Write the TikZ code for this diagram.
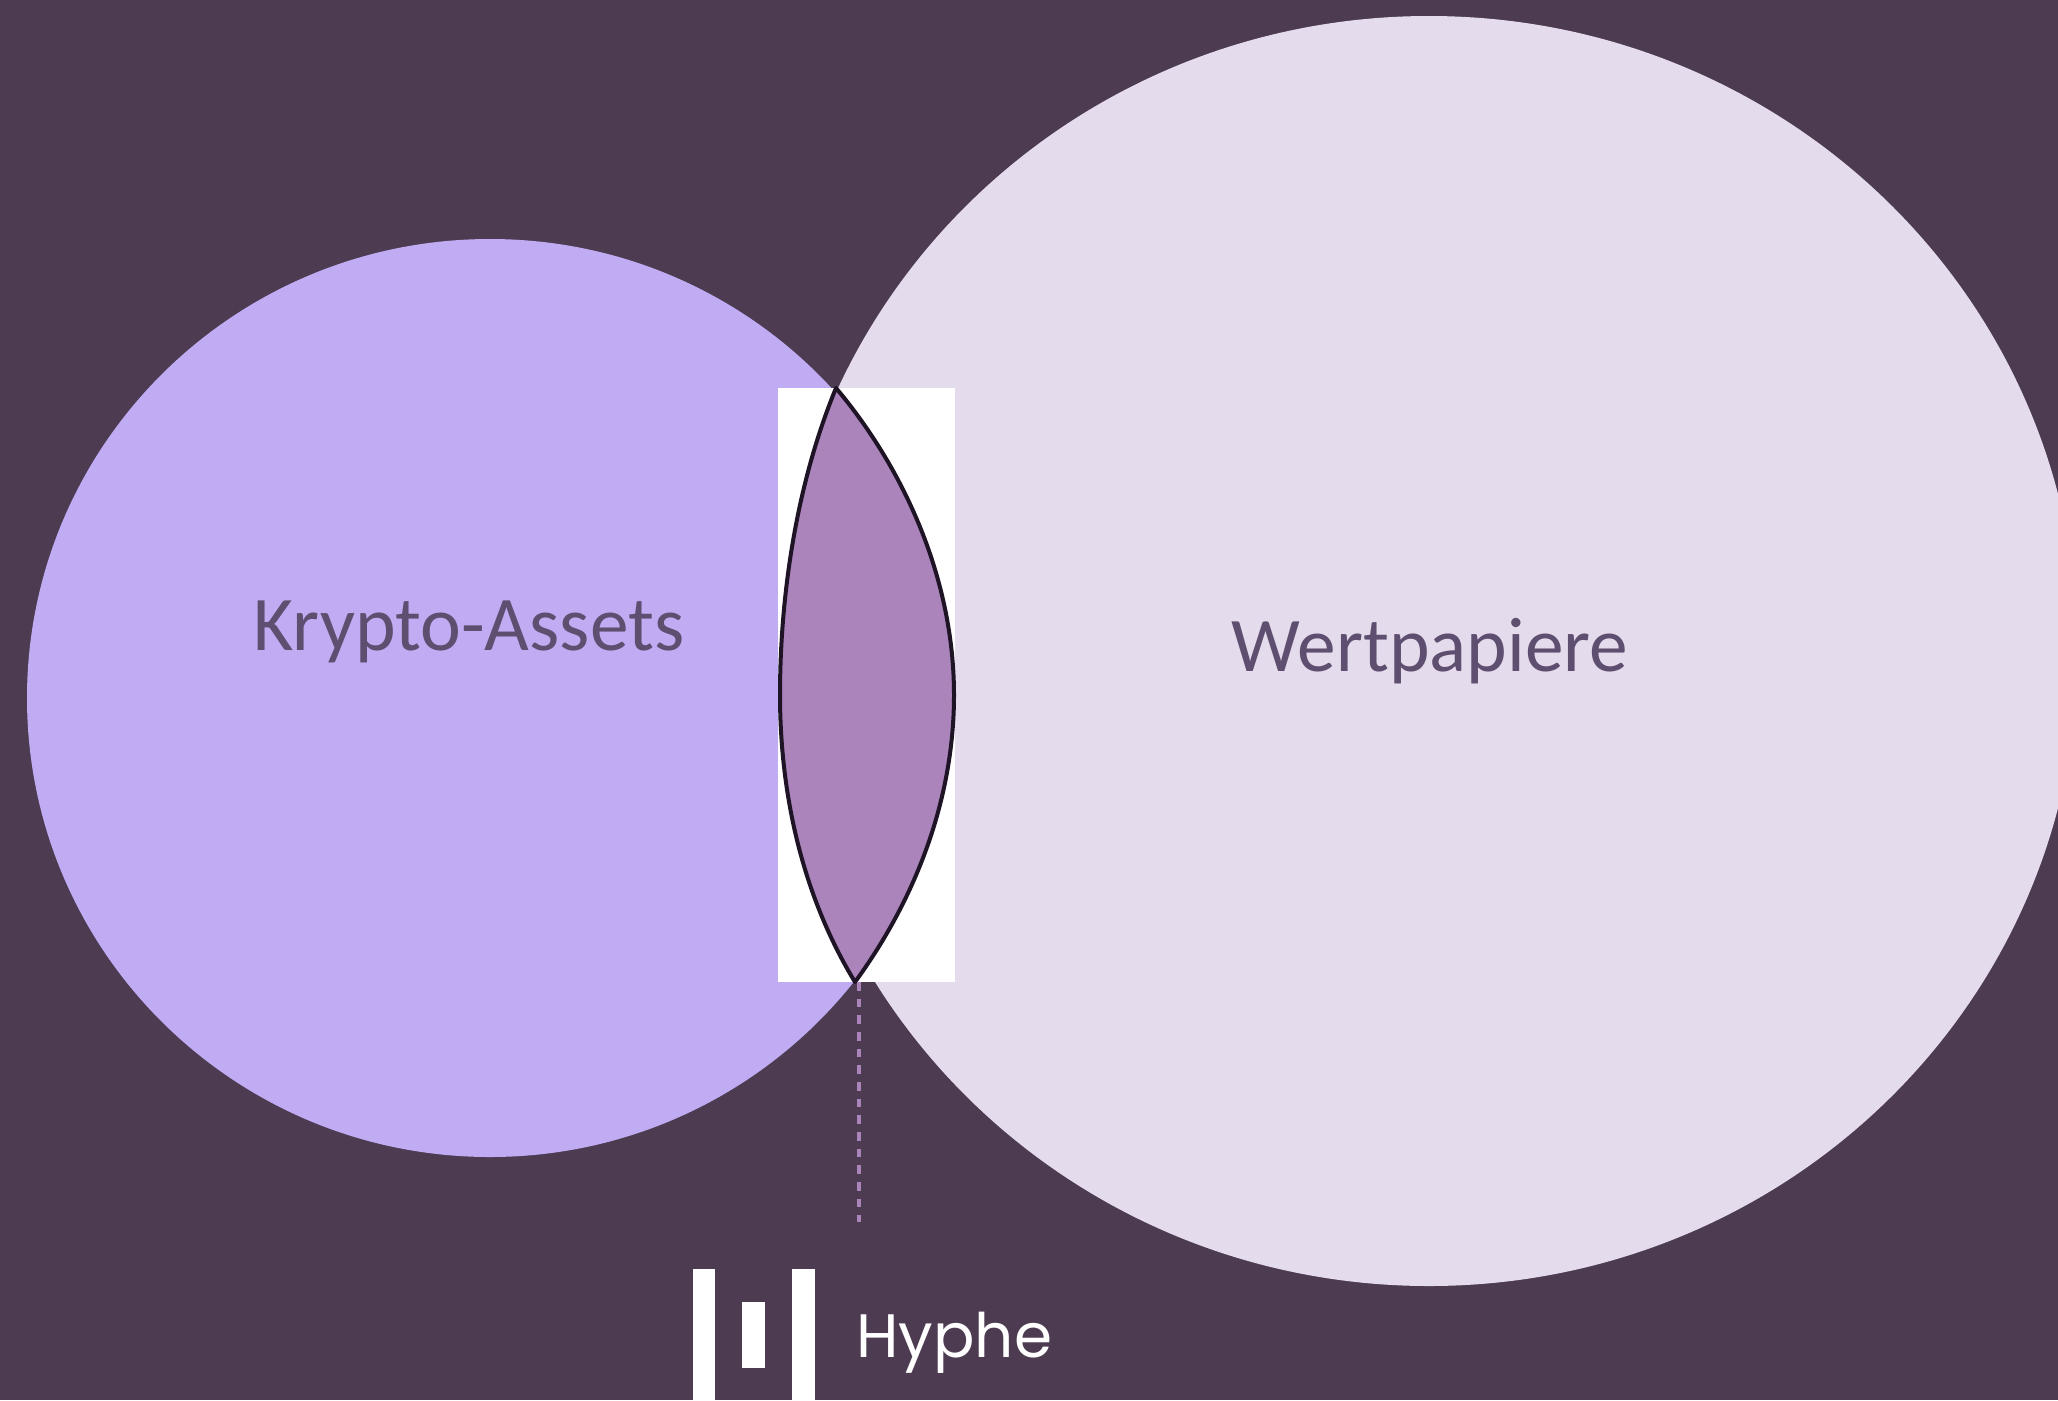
\documentclass[tikz,border=0pt]{standalone}
\usepackage{fontspec}
\setmainfont{Carlito}
\newfontfamily\logofont{Poppins}
\definecolor{bgplum}{HTML}{4D3B51}
\definecolor{krypto}{HTML}{C0ACF3}
\definecolor{wert}{HTML}{E4DCEC}
\definecolor{lens}{HTML}{AA84BA}
\definecolor{labeltext}{HTML}{5E4E70}
\definecolor{pixeldark}{HTML}{1E1426}
\tikzset{
	setlabel/.style={text=labeltext,font=\fontsize{58}{60}\selectfont,inner sep=0pt},
	logobar/.style={fill=white,draw=none}}
\tikzset{every picture/.style={line width=0.75pt}}
\begin{document}
\begin{tikzpicture}[x=0.75pt,y=0.75pt,yscale=-1,xscale=1]
	\useasboundingbox (0,0) rectangle (2058,1400);
	\clip (0,0) rectangle (2058,1400);
	\fill [bgplum] (0,0) rectangle (2058,1400);

	%Ellipses
	\fill [krypto] (490,698) ellipse (463 and 459);
	\fill [wert] (1429,651) ellipse (649 and 635);

	%Shape: Rectangle
	\fill [white] (778,388) rectangle (955,982);
	%Lens
	\draw [pixeldark,line width=3pt,fill=lens,line join=round]
		(836,388) .. controls (798,480) and (780,590) .. (780,695)
		.. controls (780,800) and (805,900) .. (855,982)
		.. controls (915,900) and (954,800) .. (954,695)
		.. controls (954,580) and (905,470) .. (836,388) -- cycle;

	%Straight Lines
	\draw [lens,line width=3pt,dash pattern=on 6.5pt off 6pt] (859,982) -- (859,1222);

	% Text Node
	\node [setlabel] (kryptolabel) at (469,632) {Krypto-Assets};
	% Text Node
	\node [setlabel] (wertlabel) at (1430,651) {Wertpapiere};

	%Logo
	\fill [logobar] (693,1269) rectangle (715,1400);
	\fill [logobar] (742,1302) rectangle (765,1368);
	\fill [logobar] (792,1269) rectangle (815,1400);
	\node [anchor=base west,inner sep=0pt,text=white,font=\logofont\fontsize{46}{48}\selectfont] (logotext) at (856,1357) {Hyphe};
\end{tikzpicture}
\end{document}
